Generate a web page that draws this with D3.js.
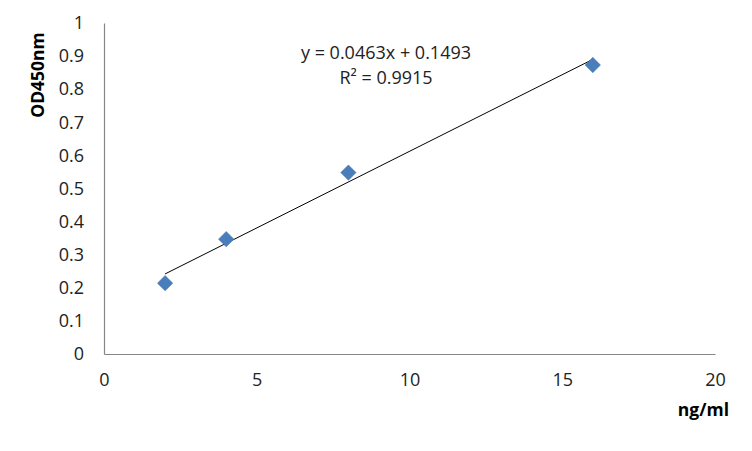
<!DOCTYPE html>
<html><head><meta charset="utf-8">
<script src="https://cdn.jsdelivr.net/npm/d3@7"></script>
<style>body{margin:0;background:#fff}text{font-family:"Open Sans","Liberation Sans",sans-serif}</style>
</head><body>
<svg id="c" width="752" height="451"></svg>
<script>
const concentrations = [2, 4, 8, 16];
const od450 = [0.214, 0.347, 0.548, 0.873];
const xTicks = [0, 5, 10, 15, 20];
const yTicks = [0, 0.1, 0.2, 0.3, 0.4, 0.5, 0.6, 0.7, 0.8, 0.9, 1];
const trendSlope = 0.0463, trendIntercept = 0.1493;
const equationLines = ["y = 0.0463x + 0.1493", "R² = 0.9915"];

const svg = d3.select("#c");
const x = d3.scaleLinear().domain([0, 20]).range([104, 715]);
const y = d3.scaleLinear().domain([0, 1]).range([354, 23]);

const xAxis = svg.append("g").attr("transform", "translate(0,354)")
  .call(d3.axisBottom(x).tickValues(xTicks).tickSize(0).tickPadding(19).tickFormat(d3.format("d")));
const yAxis = svg.append("g").attr("transform", "translate(104,0)")
  .call(d3.axisLeft(y).tickValues(yTicks).tickSize(0).tickPadding(20).tickFormat(d => d === 0 || d === 1 ? String(d) : d3.format(".1f")(d)));
[xAxis, yAxis].forEach(a => {
  a.attr("font-size", 18).attr("font-family", null);
  a.select(".domain").attr("stroke", "#868686").attr("stroke-width", 1.2);
  a.selectAll("text").style("font-size", "18px").attr("fill", "#222");
});

svg.append("line")
  .attr("x1", x(2)).attr("y1", y(trendSlope * 2 + trendIntercept))
  .attr("x2", x(16)).attr("y2", y(trendSlope * 16 + trendIntercept))
  .attr("stroke", "#000").attr("stroke-width", 1);

svg.selectAll("path.pt").data(concentrations).join("path")
  .attr("class", "pt")
  .attr("d", d3.symbol().type(d3.symbolDiamond2 || d3.symbolDiamond).size(150))
  .attr("transform", (d, i) => `translate(${x(d)},${y(od450[i])})`)
  .attr("fill", "#4a7ebb").attr("stroke", "#3d6fa8").attr("stroke-width", 0.5);

svg.selectAll("text.eq").data(equationLines).join("text")
  .attr("class", "eq").attr("x", 386).attr("y", (d, i) => 59 + i * 25)
  .attr("text-anchor", "middle").attr("font-size", 18).attr("fill", "#222").text(d => d);

svg.append("text").attr("transform", "translate(44,75) rotate(-90)")
  .attr("text-anchor", "middle").attr("font-size", 17.5).attr("font-weight", "bold").text("OD450nm");
svg.append("text").attr("x", 729).attr("y", 416)
  .attr("text-anchor", "end").attr("font-size", 17.5).attr("font-weight", "bold").text("ng/ml");
</script>
</body></html>
